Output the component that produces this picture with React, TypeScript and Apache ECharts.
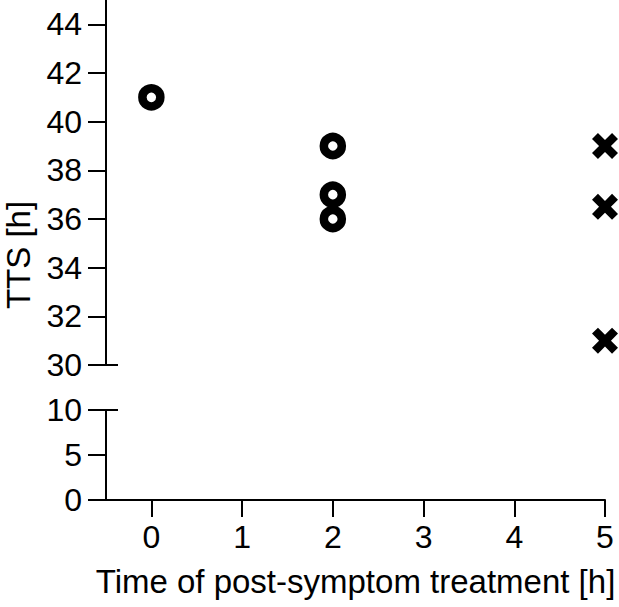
import React, { useEffect, useRef } from "react";
import * as echarts from "echarts";

const circleX = [0, 2, 2, 2];
const circleY = [41, 39, 37, 36];
const crossX = [5, 5, 5];
const crossY = [39, 36.5, 31];
const xTicks = [0, 1, 2, 3, 4, 5];
const upperTicks = [30, 32, 34, 36, 38, 40, 42, 44];
const lowerTicks = [0, 5, 10];
const xName = "Time of post-symptom treatment [h]";
const yName = "TTS [h]";

const FONT = "Liberation Sans, Arial, sans-serif";
const crossPath =
  "path://M5.5,0 L12,6.5 L18.5,0 L24,5.5 L17.5,12 L24,18.5 L18.5,24 L12,17.5 L5.5,24 L0,18.5 L6.5,12 L0,5.5 Z";

export default function App() {
  const ref = useRef<HTMLDivElement>(null);
  useEffect(() => {
    const chart = echarts.init(ref.current!, null, { renderer: "svg" });
    const line = { show: true, onZero: false, lineStyle: { color: "#000", width: 2 } };
    const label = { color: "#000", fontSize: 32, fontFamily: FONT };
    chart.setOption({
      animation: false,
      backgroundColor: "#fff",
      grid: [
        { left: 106, width: 499, top: 0, height: 365 },
        { left: 106, width: 499, top: 410, height: 90 },
      ],
      xAxis: [
        { type: "value", gridIndex: 0, min: -0.5, max: 5, show: false },
        {
          type: "value",
          gridIndex: 1,
          min: -0.5,
          max: 5,
          splitLine: { show: false },
          axisLine: line,
          axisTick: { show: true, length: 17, lineStyle: { color: "#000", width: 2 }, customValues: xTicks },
          axisLabel: { ...label, margin: 21, customValues: xTicks },
          name: xName,
          nameLocation: "middle",
          nameGap: 65,
          nameTextStyle: { color: "#000", fontSize: 33, fontFamily: FONT },
        },
      ],
      yAxis: [
        {
          type: "value",
          gridIndex: 0,
          position: "left",
          min: 30,
          max: 45,
          splitLine: { show: false },
          axisLine: line,
          axisTick: { show: true, length: 18, lineStyle: { color: "#000", width: 2 }, customValues: upperTicks },
          axisLabel: { ...label, margin: 24, customValues: upperTicks },
        },
        {
          type: "value",
          gridIndex: 1,
          position: "left",
          min: 0,
          max: 10,
          interval: 5,
          splitLine: { show: false },
          axisLine: line,
          axisTick: { show: true, length: 18, lineStyle: { color: "#000", width: 2 }, customValues: lowerTicks },
          axisLabel: { ...label, margin: 24, customValues: lowerTicks },
        },
        {
          type: "value",
          gridIndex: 0,
          position: "left",
          offset: 0,
          min: 30,
          max: 45,
          splitLine: { show: false },
          axisLine: { show: false, onZero: false },
          axisTick: { show: true, inside: true, length: 12, lineStyle: { color: "#000", width: 2 }, customValues: [30] },
          axisLabel: { show: false },
        },
        {
          type: "value",
          gridIndex: 1,
          position: "left",
          offset: 0,
          min: 0,
          max: 10,
          splitLine: { show: false },
          axisLine: { show: false, onZero: false },
          axisTick: { show: true, inside: true, length: 12, lineStyle: { color: "#000", width: 2 }, customValues: [10] },
          axisLabel: { show: false },
        },
      ],
      graphic: [
        {
          type: "text",
          x: 18,
          y: 255,
          rotation: Math.PI / 2,
          style: {
            text: yName,
            fill: "#000",
            fontSize: 33,
            fontFamily: FONT,
            align: "center",
            verticalAlign: "middle",
          },
        },
      ],
      series: [
        {
          type: "scatter",
          xAxisIndex: 0,
          yAxisIndex: 0,
          clip: false,
          symbol: "circle",
          symbolSize: 18,
          itemStyle: { color: "#fff", borderColor: "#000", borderWidth: 8.5, opacity: 1 },
          data: circleX.map((x, i) => [x, circleY[i]]),
        },
        {
          type: "scatter",
          xAxisIndex: 0,
          yAxisIndex: 0,
          clip: false,
          symbol: crossPath,
          symbolSize: 26,
          itemStyle: { color: "#000", opacity: 1 },
          data: crossX.map((x, i) => [x, crossY[i]]),
        },
      ],
    });
    return () => chart.dispose();
  }, []);
  return (
    <div
      ref={ref}
      style={{ position: "fixed", left: 0, top: 0, width: 619, height: 607, background: "#fff" }}
    />
  );
}
